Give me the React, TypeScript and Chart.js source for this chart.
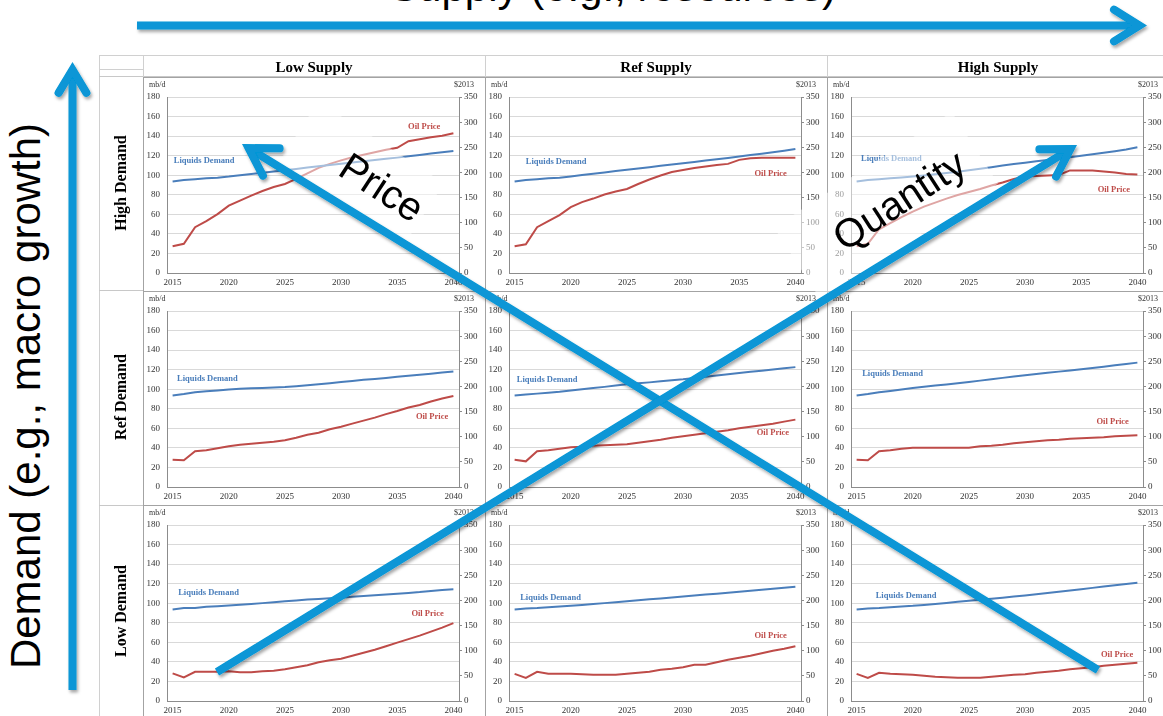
import React, { useEffect, useRef } from 'react';
import { Chart, registerables } from 'chart.js';

Chart.register(...registerables);

// ---------- data ----------
const years = [2015, 2016, 2017, 2018, 2019, 2020, 2021, 2022, 2023, 2024, 2025, 2026, 2027, 2028, 2029, 2030, 2031, 2032, 2033, 2034, 2035, 2036, 2037, 2038, 2039, 2040];
const xTickYears = [2015, 2020, 2025, 2030, 2035, 2040];
const demandTicks = [0, 20, 40, 60, 80, 100, 120, 140, 160, 180];
const priceTicks = [0, 50, 100, 150, 200, 250, 300, 350];

const supplyCases = ['Low Supply', 'Ref Supply', 'High Supply'];
const demandCases = ['High Demand', 'Ref Demand', 'Low Demand'];

// Liquids demand (mb/d) and oil price ($2013)
const demand_HD_LS = [93.5, 95, 96, 96.8, 97.5, 98.6, 100, 101.2, 102.5, 103.8, 105, 106.3, 107.8, 109.2, 110.5, 111.8, 113, 114.3, 115.5, 116.8, 118, 119.3, 120.8, 122.2, 123.5, 124.8];
const price_HD_LS = [53, 58, 91, 103, 117, 134, 144, 154, 163, 171, 177, 187, 198, 209, 217, 224, 230, 235, 240, 245, 249, 262, 266, 270, 273, 278];
const demand_HD_RS = [93.5, 95, 96, 96.8, 97.5, 98.8, 100.2, 101.5, 102.8, 104.2, 105.5, 106.8, 108.2, 109.6, 111, 112.3, 113.6, 115, 116.3, 117.7, 119.2, 120.6, 122, 123.4, 125, 126.8];
const price_HD_RS = [53, 57, 91, 103, 115, 131, 141, 148, 156, 162, 167, 177, 186, 194, 201, 205, 209, 212, 215, 217, 225, 228, 229, 229, 229, 229];
const demand_HD_HS = [93.5, 95, 96, 96.8, 97.6, 98.6, 99.8, 101, 102.3, 103.6, 105, 106.6, 108.2, 110, 111.4, 112.8, 114.2, 115.6, 117, 118.4, 120, 121.5, 123, 124.6, 126.4, 128.5];
const price_HD_HS = [53, 58, 87, 99, 111, 122, 132, 140, 148, 155, 161, 167, 174, 180, 187, 192, 193, 194, 195, 204, 204, 204, 202, 200, 197, 196];
const demand_RD_LS = [93.5, 95, 96.8, 98, 98.8, 99.6, 100.4, 101, 101.3, 101.7, 102.2, 103, 104, 105, 106.2, 107.5, 108.5, 109.6, 110.5, 111.6, 112.8, 113.8, 114.8, 115.8, 117, 118.2];
const price_RD_LS = [54, 53, 71, 73, 77, 81, 84, 86, 88, 90, 93, 98, 104, 108, 115, 120, 126, 132, 138, 145, 151, 158, 163, 170, 176, 181];
const demand_RD_RS = [93.5, 94.5, 95.5, 96.5, 97.5, 98.8, 100, 101.2, 102.4, 103.7, 105, 106, 107, 108.2, 109.2, 110.2, 111.5, 112.8, 114, 115.4, 116.7, 117.8, 119, 120.2, 121.4, 122.6];
const price_RD_RS = [54, 51, 71, 73, 76, 79, 80, 82, 83, 84, 85, 88, 91, 94, 98, 101, 104, 107, 110, 113, 117, 120, 123, 126, 130, 134];
const demand_RD_HS = [93.5, 95, 96.8, 98.3, 99.8, 101.3, 102.5, 103.7, 104.9, 106.1, 107.4, 108.8, 110.2, 111.6, 113, 114.3, 115.5, 116.8, 118, 119.2, 120.4, 121.7, 123, 124.4, 125.8, 127.2];
const price_RD_HS = [54, 53, 71, 73, 76, 78, 78, 78, 78, 78, 78, 81, 82, 84, 87, 89, 91, 93, 94, 96, 97, 98, 99, 101, 102, 103];
const demand_LD_LS = [93.5, 95, 95.2, 96.3, 97, 97.7, 98.4, 99.2, 100.1, 101, 101.9, 102.9, 103.8, 104.4, 105, 105.6, 106.5, 107.3, 108.1, 108.9, 109.7, 110.5, 111.4, 112.6, 113.6, 114.3];
const price_LD_LS = [55, 47, 58, 58, 58, 59, 57, 57, 59, 60, 63, 67, 71, 77, 81, 84, 90, 96, 102, 109, 116, 123, 130, 138, 146, 155];
const demand_LD_RS = [93.5, 94.5, 95, 95.8, 96.6, 97.3, 98.2, 99.2, 100.1, 101.1, 102.1, 103, 104, 104.9, 105.9, 106.9, 107.8, 108.8, 109.7, 110.7, 111.7, 112.7, 113.8, 114.8, 115.8, 116.9];
const price_LD_RS = [54, 46, 58, 54, 54, 54, 53, 52, 52, 52, 54, 56, 58, 62, 64, 67, 72, 72, 77, 82, 86, 90, 95, 100, 104, 109];
const demand_LD_HS = [93.5, 94.5, 95, 95.8, 96.6, 97.3, 98.3, 99.3, 100.3, 101.4, 102.5, 103.5, 104.6, 105.7, 106.8, 108, 109.2, 110.4, 111.7, 113, 114.4, 115.7, 117, 118.3, 119.6, 120.9];
const price_LD_HS = [54, 46, 56, 54, 53, 52, 50, 48, 47, 46, 46, 46, 48, 50, 52, 53, 56, 58, 60, 63, 65, 67, 70, 72, 74, 76];

// label anchors [year, mb/d]
const demandLabelAt = [
  [[2017.8, 115], [2018.7, 114], [2018.1, 117]],
  [[2018.1, 111], [2017.9, 110], [2018.2, 116]],
  [[2018.2, 111], [2018.2, 105.5], [2019.4, 107.5]],
];
const priceLabelAt = [
  [[2037.4, 150], [2037.8, 101], [2037.9, 85]],
  [[2038.1, 72], [2038.0, 55], [2037.8, 67]],
  [[2037.7, 89], [2037.8, 67], [2038.2, 47]],
];

const demandGrid = [
  [demand_HD_LS, demand_HD_RS, demand_HD_HS],
  [demand_RD_LS, demand_RD_RS, demand_RD_HS],
  [demand_LD_LS, demand_LD_RS, demand_LD_HS],
];
const priceGrid = [
  [price_HD_LS, price_HD_RS, price_HD_HS],
  [price_RD_LS, price_RD_RS, price_RD_HS],
  [price_LD_LS, price_LD_RS, price_LD_HS],
];

// ---------- styles ----------
const SERIF = '"Liberation Serif", "Times New Roman", serif';
const SANS = '"Liberation Sans", Arial, sans-serif';
const BLUE = '#4a7ebb';
const RED = '#be4b48';
const GRID = '#d9d9d9';
const AXIS = '#8c8c8c';
const TICK = '#333333';
const ARROW = '#0796d6';

const colLeft = [143, 485, 827];
const rowTop = [77, 291, 505];
const CELL_W = 342;
const CELL_H = 214;

type PanelProps = {
  left: number;
  top: number;
  demand: number[];
  price: number[];
  ldAt: number[];
  opAt: number[];
};

function Panel({ left, top, demand, price, ldAt, opAt }: PanelProps) {
  const ref = useRef<HTMLCanvasElement | null>(null);
  useEffect(() => {
    if (!ref.current) return;
    const annot = {
      id: 'annot',
      afterDatasetsDraw(chart: any) {
        const { ctx, chartArea, scales } = chart;
        ctx.save();
        ctx.font = `8px ${SERIF}`;
        ctx.fillStyle = TICK;
        ctx.textBaseline = 'middle';
        ctx.textAlign = 'left';
        ctx.fillText('mb/d', chartArea.left - 18, chartArea.top - 12);
        ctx.textAlign = 'right';
        ctx.fillText('$2013', chartArea.right + 15, chartArea.top - 12);
        ctx.font = `bold 8.5px ${SERIF}`;
        ctx.textAlign = 'center';
        ctx.fillStyle = BLUE;
        ctx.fillText('Liquids Demand', scales.x.getPixelForValue(ldAt[0] - years[0]), scales.y.getPixelForValue(ldAt[1]));
        ctx.fillStyle = RED;
        ctx.fillText('Oil Price', scales.x.getPixelForValue(opAt[0] - years[0]), scales.y.getPixelForValue(opAt[1]));
        ctx.restore();
      },
    };
    const tickFont = { family: SERIF, size: 9 };
    const chart = new Chart(ref.current, {
      type: 'line',
      data: {
        labels: years.map(String),
        datasets: [
          { label: 'Liquids Demand', data: demand, yAxisID: 'y', borderColor: BLUE, backgroundColor: BLUE, borderWidth: 2, pointRadius: 0, tension: 0 },
          { label: 'Oil Price', data: price, yAxisID: 'y1', borderColor: RED, backgroundColor: RED, borderWidth: 2, pointRadius: 0, tension: 0 },
        ],
      },
      options: {
        animation: false,
        responsive: false,
        maintainAspectRatio: false,
        layout: { padding: { top: 20, left: 0, right: 0, bottom: 0 } },
        plugins: { legend: { display: false }, tooltip: { enabled: false }, title: { display: false } },
        scales: {
          x: {
            type: 'category',
            offset: true,
            grid: { drawOnChartArea: false, drawTicks: false },
            border: { color: AXIS, width: 1 },
            ticks: {
              autoSkip: false,
              maxRotation: 0,
              minRotation: 0,
              padding: 4,
              color: TICK,
              font: tickFont,
              callback: (_v: any, i: number) => (xTickYears.includes(years[i]) ? String(years[i]) : ''),
            },
            afterFit: (s: any) => { s.height = 18; },
          },
          y: {
            position: 'left',
            min: demandTicks[0],
            max: demandTicks[demandTicks.length - 1],
            ticks: { stepSize: demandTicks[1] - demandTicks[0], padding: 7, color: TICK, font: tickFont },
            grid: { color: GRID, drawTicks: false },
            border: { color: AXIS, width: 1 },
            afterFit: (s: any) => { s.width = 24; },
          },
          y1: {
            position: 'right',
            min: priceTicks[0],
            max: priceTicks[priceTicks.length - 1],
            ticks: { stepSize: priceTicks[1] - priceTicks[0], padding: 2, color: TICK, font: tickFont },
            grid: { drawOnChartArea: false, tickLength: 3, color: AXIS },
            border: { color: AXIS, width: 1 },
            afterFit: (s: any) => { s.width = 26; },
          },
        },
      } as any,
      plugins: [annot],
    });
    return () => chart.destroy();
  }, []);
  return (
    <canvas
      ref={ref}
      width={CELL_W}
      height={CELL_H}
      style={{ position: 'absolute', left, top, width: CELL_W, height: CELL_H }}
    />
  );
}

type ArrowSpec = { tail: number[]; tip: number[]; arm: number; half: number };

const arrows: ArrowSpec[] = [
  { tail: [137, 25.5], tip: [1147, 25.5], arm: 30, half: 32 },
  { tail: [72.5, 690], tip: [72.5, 62], arm: 27, half: 31 },
  { tail: [1098, 670], tip: [242, 144], arm: 31, half: 31 },
  { tail: [217, 672], tip: [1077, 145], arm: 31, half: 31 },
];

function arrowPaths(a: ArrowSpec) {
  const dx = a.tail[0] - a.tip[0];
  const dy = a.tail[1] - a.tip[1];
  const len = Math.hypot(dx, dy);
  const ux = dx / len;
  const uy = dy / len;
  const miter = 4 / Math.sin((a.half * Math.PI) / 180);
  const vx = a.tip[0] + ux * miter;
  const vy = a.tip[1] + uy * miter;
  const ang = Math.atan2(uy, ux);
  const h = (a.half * Math.PI) / 180;
  const e1 = [vx + a.arm * Math.cos(ang + h), vy + a.arm * Math.sin(ang + h)];
  const e2 = [vx + a.arm * Math.cos(ang - h), vy + a.arm * Math.sin(ang - h)];
  return {
    shaft: `M${a.tail[0]} ${a.tail[1]} L${vx} ${vy}`,
    head: `M${e1[0]} ${e1[1]} L${vx} ${vy} L${e2[0]} ${e2[1]}`,
  };
}

const line = (x: number, y: number, w: number, h: number, c: string) => (
  <div style={{ position: 'absolute', left: x, top: y, width: w, height: h, background: c }} />
);

export default function App() {
  useEffect(() => {
    document.body.style.margin = '0';
  }, []);

  const cells: any[] = [];
  for (let r = 0; r < 3; r++) {
    for (let c = 0; c < 3; c++) {
      cells.push(
        <Panel
          key={`p${r}${c}`}
          left={colLeft[c]}
          top={rowTop[r]}
          demand={demandGrid[r][c]}
          price={priceGrid[r][c]}
          ldAt={demandLabelAt[r][c]}
          opAt={priceLabelAt[r][c]}
        />
      );
    }
  }

  const borders: any[] = [];
  for (let r = 0; r < 3; r++) {
    for (let c = 0; c < 3; c++) {
      borders.push(
        <div
          key={`b${r}${c}`}
          style={{
            position: 'absolute',
            left: colLeft[c],
            top: rowTop[r],
            width: CELL_W - 1,
            height: CELL_H - 1,
            border: '1px solid #a3a3a3',
            boxSizing: 'content-box',
            pointerEvents: 'none',
          }}
        />
      );
    }
  }

  return (
    <div style={{ position: 'fixed', left: 0, top: 0, width: 1163, height: 716, overflow: 'hidden', background: '#fff' }}>
      {/* table frame */}
      {line(99, 55, 1070, 1, '#d0d0d0')}
      {line(99, 55, 1, 670, '#d0d0d0')}
      {line(99, 69, 44, 1, '#d0d0d0')}
      {line(99, 76, 1070, 1, '#c8c8c8')}
      {line(143, 55, 1, 22, '#d0d0d0')}
      {line(485, 55, 1, 22, '#d0d0d0')}
      {line(827, 55, 1, 22, '#d0d0d0')}
      {line(99, 290, 44, 1, '#c8c8c8')}
      {line(99, 505, 44, 1, '#c8c8c8')}

      {cells}
      {borders}

      {supplyCases.map((s, i) => (
        <div
          key={s}
          style={{
            position: 'absolute',
            left: colLeft[i],
            top: 57,
            width: CELL_W,
            height: 21,
            lineHeight: '21px',
            textAlign: 'center',
            fontFamily: SERIF,
            fontWeight: 'bold',
            fontSize: 15,
            color: '#000',
          }}
        >
          {s}
        </div>
      ))}

      {demandCases.map((d, i) => (
        <div
          key={d}
          style={{
            position: 'absolute',
            left: 121 - 90,
            top: rowTop[i] + 106 - 10,
            width: 180,
            height: 20,
            lineHeight: '20px',
            textAlign: 'center',
            fontFamily: SERIF,
            fontWeight: 'bold',
            fontSize: 16,
            color: '#000',
            transform: 'rotate(-90deg)',
            transformOrigin: '50% 50%',
          }}
        >
          {d}
        </div>
      ))}

      {/* translucent text boxes */}
      <div style={{ position: 'absolute', left: 362 - 77.5, top: 175 - 39, width: 150, height: 78, background: 'rgba(255,255,255,0.5)', transform: 'rotate(33deg)' }} />
      <div style={{ position: 'absolute', left: 886 - 106, top: 205.5 - 42.5, width: 212, height: 85, background: 'rgba(255,255,255,0.5)', transform: 'rotate(-33deg)' }} />

      <div style={{ position: 'absolute', left: 382 - 100, top: 187 - 25, width: 200, height: 50, lineHeight: '50px', textAlign: 'center', fontFamily: SANS, fontSize: 40, color: '#000', transform: 'rotate(33deg)' }}>
        Price
      </div>
      <div style={{ position: 'absolute', left: 899 - 120, top: 200 - 25, width: 240, height: 50, lineHeight: '50px', textAlign: 'center', fontFamily: SANS, fontSize: 40, color: '#000', transform: 'rotate(-33deg)' }}>
        Quantity
      </div>

      {/* big axis texts */}
      <div style={{ position: 'absolute', left: 613 - 300, top: 2 - 35.6, width: 600, height: 42, lineHeight: '42px', textAlign: 'center', fontFamily: SANS, fontSize: 42, color: '#000', whiteSpace: 'nowrap' }}>
        Supply (e.g., resources)
      </div>
      <div style={{ position: 'absolute', left: 26.4 - 300, top: 396 - 21, width: 600, height: 42, lineHeight: '42px', textAlign: 'center', fontFamily: SANS, fontSize: 42, color: '#000', whiteSpace: 'nowrap', transform: 'rotate(-90deg)' }}>
        Demand (e.g., macro growth)
      </div>

      <svg width={1163} height={716} style={{ position: 'absolute', left: 0, top: 0, pointerEvents: 'none' }}>
        <defs>
          <filter id="sh" filterUnits="userSpaceOnUse" x="0" y="0" width="1163" height="716">
            <feDropShadow dx="1.5" dy="2.5" stdDeviation="1.6" floodColor="#000" floodOpacity="0.35" />
          </filter>
        </defs>
        <g filter="url(#sh)" fill="none" stroke={ARROW} strokeWidth={8}>
          {arrows.map((a, i) => {
            const p = arrowPaths(a);
            return (
              <g key={i}>
                <path d={p.shaft} strokeLinecap="butt" />
                <path d={p.head} strokeLinecap="round" strokeLinejoin="miter" strokeMiterlimit={10} />
              </g>
            );
          })}
        </g>
      </svg>
    </div>
  );
}
